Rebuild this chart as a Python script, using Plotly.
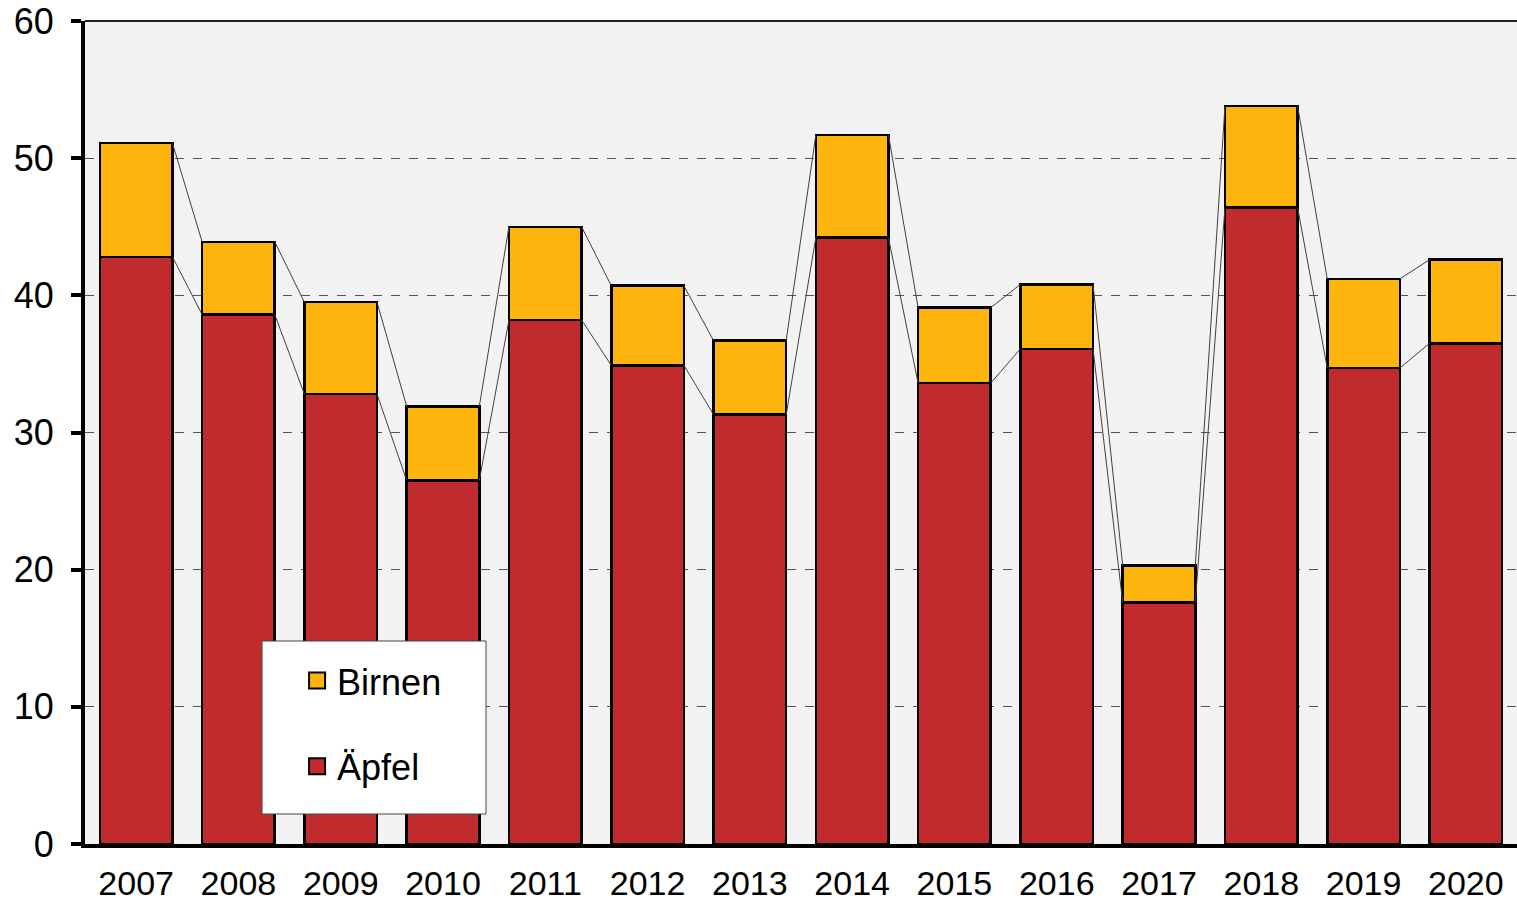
import plotly.graph_objects as go

years = ["2007", "2008", "2009", "2010", "2011", "2012", "2013",
         "2014", "2015", "2016", "2017", "2018", "2019", "2020"]
aepfel = [42.8, 38.6, 32.8, 26.5, 38.2, 34.9, 31.3, 44.2, 33.6, 36.1, 17.6, 46.4, 34.7, 36.5]
gesamt = [51.1, 43.9, 39.5, 31.9, 45.0, 40.7, 36.7, 51.7, 39.1, 40.8, 20.3, 53.8, 41.2, 42.6]
birnen = [round(g - a, 2) for g, a in zip(gesamt, aepfel)]

RED = "#C22B2D"
ORANGE = "#FDB50D"
BAR_W = 0.71
FONT = "Liberation Sans, Arial, sans-serif"
FS = 36
FS_X = 34

xs = list(range(len(years)))

fig = go.Figure()
fig.add_trace(go.Bar(x=xs, y=aepfel, name="Äpfel", width=BAR_W, showlegend=False,
                     marker=dict(color=RED, line=dict(color="black", width=2.5))))
fig.add_trace(go.Bar(x=xs, y=birnen, name="Birnen", width=BAR_W, showlegend=False,
                     marker=dict(color=ORANGE, line=dict(color="black", width=2.5))))


def connectors(vals):
    lx, ly = [], []
    for i in range(len(vals) - 1):
        lx += [xs[i] + BAR_W / 2, xs[i + 1] - BAR_W / 2, None]
        ly += [vals[i], vals[i + 1], None]
    return lx, ly


for series in (aepfel, gesamt):
    lx, ly = connectors(series)
    fig.add_trace(go.Scatter(x=lx, y=ly, mode="lines", showlegend=False,
                             line=dict(color="#404040", width=1), hoverinfo="skip"))

# legend entries (square swatches)
for name, col, grp in (("Birnen", ORANGE, "b"), ("Äpfel", RED, "a")):
    fig.add_trace(go.Scatter(x=[None], y=[None], mode="markers", name=name,
                             legendgroup=grp,
                             marker=dict(symbol="square", size=17, color=col,
                                         line=dict(color="black", width=2))))

fig.update_layout(
    width=1517, height=904,
    paper_bgcolor="white",
    plot_bgcolor="#F2F2F2",
    barmode="stack",
    margin=dict(l=85, r=0, t=21, b=60, autoexpand=False),
    font=dict(family=FONT, size=FS, color="black"),
    showlegend=True,
    legend=dict(
        x=(262 - 85) / 1432 + 0.0245, y=0.235, xanchor="left", yanchor="top",
        bgcolor="rgba(0,0,0,0)", borderwidth=0,
        traceorder="grouped", tracegroupgap=36,
        font=dict(family=FONT, size=FS, color="black"),
    ),
    shapes=[
        dict(type="rect", xref="paper", yref="paper",
             x0=(262 - 85) / 1432, x1=(486 - 85) / 1432,
             y0=(844 - 814) / 823, y1=(844 - 641) / 823,
             fillcolor="white", line=dict(color="#444", width=1), layer="above"),
        dict(type="line", xref="paper", yref="paper", x0=0, x1=1, y0=1, y1=1,
             line=dict(color="#222", width=2), layer="above"),
    ],
)

fig.update_xaxes(
    range=[-0.5, len(years) - 0.5], automargin=False,
    tickvals=xs, ticktext=years,
    showgrid=False, zeroline=False,
    showline=True, linecolor="black", linewidth=4,
    ticks="", ticklabelstandoff=6, ticklabeloverflow="allow",
    tickfont=dict(size=FS_X),
)
fig.update_yaxes(
    range=[0, 60], dtick=10, automargin=False,
    showgrid=True, gridcolor="#555", griddash="dash", gridwidth=1,
    zeroline=False,
    showline=True, linecolor="black", linewidth=4,
    ticks="outside", ticklen=10, tickwidth=4, tickcolor="black",
    ticklabelstandoff=10, ticklabeloverflow="allow",
    tickfont=dict(size=FS),
)

fig.write_html("out.html", config={"displayModeBar": False},
               post_script="document.body.style.margin='0';")
